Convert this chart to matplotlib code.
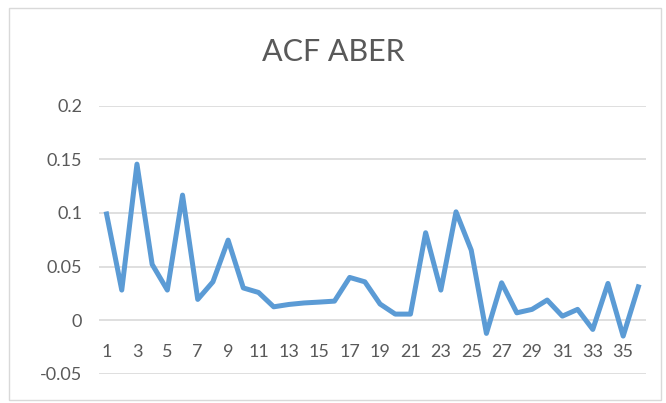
import matplotlib.pyplot as plt
from matplotlib.patches import Rectangle

# ACF values by lag
lags = list(range(1, 37))
acf = [0.099, 0.028, 0.1455, 0.052, 0.028, 0.1166, 0.0193, 0.0357, 0.0746, 0.030,
       0.0258, 0.0124, 0.0146, 0.016, 0.0168, 0.0177, 0.0398, 0.0357, 0.015, 0.0056,
       0.0056, 0.0815, 0.028, 0.101, 0.0653, -0.0124, 0.0348, 0.0068, 0.010, 0.0187,
       0.0037, 0.010, -0.0087, 0.0342, -0.0149, 0.031]
y_ticks = [-0.05, 0, 0.05, 0.1, 0.15, 0.2]
y_labels = ["-0.05", "0", "0.05", "0.1", "0.15", "0.2"]

plt.rcParams["font.family"] = ["Lato", "DejaVu Sans"]
text_color = "#595959"
grid_color = "#D9D9D9"

fig = plt.figure(figsize=(6.66, 4.03), dpi=100)
fig.patches.append(Rectangle((0.013, 0.007), 0.98, 0.972, transform=fig.transFigure,
                             fill=False, edgecolor=grid_color, linewidth=1))

ax = fig.add_axes([0.1486, 0.0727, 0.8213, 0.665])
ax.plot(lags, acf, color="#5B9BD5", linewidth=3.6, solid_joinstyle="round", zorder=3)

ax.set_xlim(0.5, 36.5)
ax.set_ylim(-0.05, 0.2)
ax.set_yticks(y_ticks)
ax.set_yticklabels(y_labels)
ax.yaxis.grid(True, color=grid_color, linewidth=1.2)
ax.set_axisbelow(True)

# category axis crosses at zero, labels on every other lag
ax.spines["bottom"].set_position(("data", 0))
for side in ["top", "right", "left", "bottom"]:
    ax.spines[side].set_visible(False)
ax.set_xticks(lags[::2])
ax.set_xticklabels([str(v) for v in lags[::2]])
ax.tick_params(axis="x", length=0, pad=17, labelsize=13, labelcolor=text_color)
ax.tick_params(axis="y", length=0, pad=12, labelsize=13, labelcolor=text_color)

fig.text(0.5, 0.872, "ACF ABER", ha="center", va="center", fontsize=22,
         color=text_color, fontweight="normal")

fig.savefig("out.png", dpi=100)
